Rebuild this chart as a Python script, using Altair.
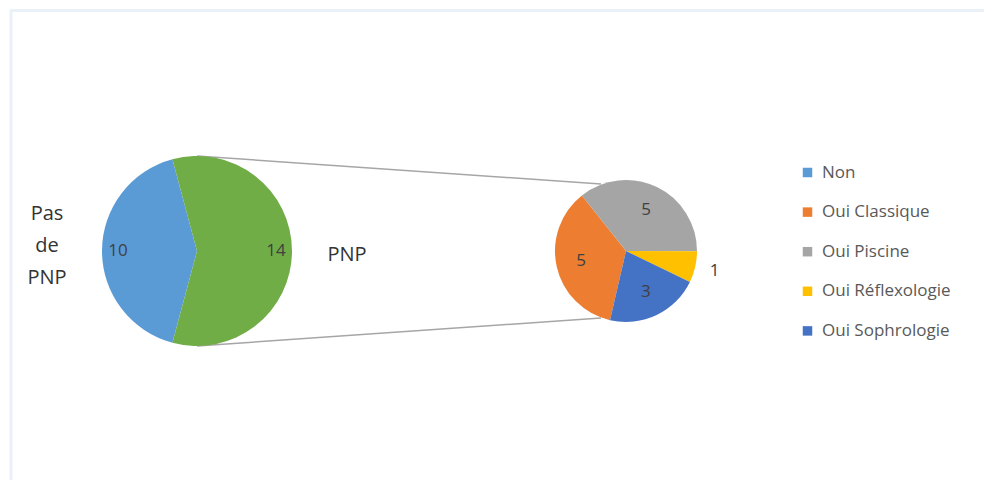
import math
import altair as alt
import pandas as pd

# ---- data ----
left_categories = ["Non", "PNP"]
left_labels = ["Pas de PNP", "PNP"]
left_values = [10, 14]

right_categories = ["Oui Classique", "Oui Piscine", "Oui Réflexologie", "Oui Sophrologie"]
right_values = [5, 5, 1, 3]

legend_entries = ["Non", "Oui Classique", "Oui Piscine", "Oui Réflexologie", "Oui Sophrologie"]
all_categories = ["Non", "PNP", "Oui Classique", "Oui Piscine", "Oui Réflexologie", "Oui Sophrologie"]
palette = ["#5B9BD5", "#70AD47", "#ED7D31", "#A5A5A5", "#FFC000", "#4472C4"]

left_df = pd.DataFrame({"category": left_categories, "label": left_labels,
                        "value": left_values, "idx": list(range(len(left_values)))})
right_df = pd.DataFrame({"category": right_categories, "value": right_values,
                         "idx": list(range(len(right_values)))})
dummy = pd.DataFrame({"d": [0]})

FONT = "Open Sans"
color_scale = alt.Scale(domain=all_categories, range=palette)

LX, LY, LR = 189, 243, 95
RX, RY, RR = 618, 243, 71
LEFT_START, RIGHT_START = 195, 193


def theta_enc(start_deg):
    s = math.radians(start_deg)
    return alt.Theta("value:Q", stack=True, scale=alt.Scale(range=[s, s + 2 * math.pi]))


legend = alt.Legend(
    title=None, values=legend_entries, orient="none", legendX=791, legendY=156,
    symbolType="square", symbolSize=90, symbolStrokeWidth=0,
    labelFont=FONT, labelFontSize=17, labelColor="#595959", labelOffset=6,
    rowPadding=21.6,
)

# frame lines
frame_top = alt.Chart(dummy).mark_rule(color="#EAF0F7", strokeWidth=3).encode(
    x=alt.value(2), x2=alt.value(976), y=alt.value(2.5), y2=alt.value(2.5))
frame_left = alt.Chart(dummy).mark_rule(color="#EAF0F7", strokeWidth=3).encode(
    x=alt.value(3), x2=alt.value(3), y=alt.value(2), y2=alt.value(472))

# connector lines
conn_top = alt.Chart(dummy).mark_rule(color="#A6A6A6", strokeWidth=1.5).encode(
    x=alt.value(LX), x2=alt.value(593), y=alt.value(LY - LR), y2=alt.value(176))
conn_bot = alt.Chart(dummy).mark_rule(color="#A6A6A6", strokeWidth=1.5).encode(
    x=alt.value(LX), x2=alt.value(593), y=alt.value(LY + LR), y2=alt.value(310))

left_arc = alt.Chart(left_df).mark_arc(outerRadius=LR).encode(
    theta=theta_enc(LEFT_START), order=alt.Order("idx:O"),
    color=alt.Color("category:N", scale=color_scale, legend=legend),
    x=alt.value(LX), y=alt.value(LY))

left_vals = alt.Chart(left_df).mark_text(radius=79, fontSize=17, color="#404040", font=FONT).encode(
    theta=theta_enc(LEFT_START), order=alt.Order("idx:O"), text="value:Q",
    x=alt.value(LX), y=alt.value(LY))

left_cat_multi = alt.Chart(left_df).mark_text(radius=150, fontSize=20, color="#333333", font=FONT,
                                               lineBreak=" ", lineHeight=32, dy=-37).encode(
    theta=theta_enc(LEFT_START), order=alt.Order("idx:O"),
    text=alt.condition(alt.datum.idx == 0, "label:N", alt.value("")),
    x=alt.value(LX), y=alt.value(LY))

left_cat_single = alt.Chart(left_df).mark_text(radius=150, fontSize=20, color="#333333", font=FONT,
                                                dy=4).encode(
    theta=theta_enc(LEFT_START), order=alt.Order("idx:O"),
    text=alt.condition(alt.datum.idx == 1, "label:N", alt.value("")),
    x=alt.value(LX), y=alt.value(LY))

right_arc = alt.Chart(right_df).mark_arc(outerRadius=RR).encode(
    theta=theta_enc(RIGHT_START), order=alt.Order("idx:O"),
    color=alt.Color("category:N", scale=color_scale, legend=legend),
    x=alt.value(RX), y=alt.value(RY))

right_in = alt.Chart(right_df).mark_text(radius=46, fontSize=17, color="#404040", font=FONT).encode(
    theta=theta_enc(RIGHT_START), order=alt.Order("idx:O"),
    text=alt.condition(alt.datum.value >= 2, "value:Q", alt.value("")),
    x=alt.value(RX), y=alt.value(RY))

right_out = alt.Chart(right_df).mark_text(radius=91, fontSize=17, color="#404040", font=FONT).encode(
    theta=theta_enc(RIGHT_START), order=alt.Order("idx:O"),
    text=alt.condition(alt.datum.value < 2, "value:Q", alt.value("")),
    x=alt.value(RX), y=alt.value(RY))

chart = alt.layer(
    frame_top, frame_left, conn_top, conn_bot,
    left_arc, left_vals, left_cat_multi, left_cat_single, right_arc, right_in, right_out,
).resolve_scale(theta="independent").properties(
    width=976, height=472, padding=0, autosize=alt.AutoSizeParams(type="none"),
    background="white",
).configure_view(stroke="transparent")

chart.save("out.html", embed_options={"renderer": "svg", "actions": False})
